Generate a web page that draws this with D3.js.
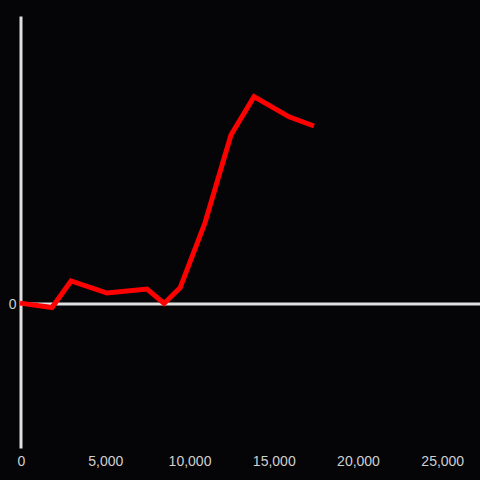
<!DOCTYPE html>
<html>
<head>
<script src="https://d3js.org/d3.v7.min.js"></script>
<style>
	body { margin: 0; background: #050407; }
	svg { background-color: #050407; display: block; }
	.tick text { fill: #d0d0d0; font-family: "Liberation Sans", Arial, sans-serif; font-size: 14px; }
</style>
</head>
<body>
<svg class="chart" width="480" height="480"></svg>
<script>
// data
var xValues = [0, 1900, 3030, 5160, 7540, 8550, 9500, 10980, 12520, 13890, 15970, 17450];
var yValues = [0.03, -0.12, 0.8, 0.38, 0.52, 0.02, 0.56, 2.82, 5.87, 7.2, 6.5, 6.18];
var xTicks = [0, 5000, 10000, 15000, 20000, 25000];
var yTicks = [0];

var svg = d3.select(".chart");
var padLeft = 20, padRight = 480, padTop = 16, padBottom = 448;

var x = d3.scaleLinear().domain([0, 27300]).range([padLeft, padRight]);
var y = d3.scaleLinear().domain([-5, 10]).range([padBottom, padTop]);

// zero line
svg.append("line")
	.attr("x1", padLeft).attr("x2", padRight)
	.attr("y1", y(0)).attr("y2", y(0))
	.attr("stroke", "#e0e0e0")
	.attr("stroke-width", 3);

// x tick labels along the bottom
var xAxis = svg.append("g")
	.attr("transform", "translate(1," + padBottom + ")")
	.call(d3.axisBottom(x).tickValues(xTicks).tickSize(0).tickPadding(6).tickFormat(d3.format(",")));
xAxis.select(".domain").remove();
xAxis.selectAll(".tick text").attr("dy", "0.85em");

// y axis
var yAxis = svg.append("g")
	.attr("transform", "translate(" + (padLeft + 0.5) + ",0)")
	.call(d3.axisLeft(y).tickValues(yTicks).tickSize(0).tickPadding(4).tickSizeOuter(0));
yAxis.select(".domain").attr("stroke", "#e0e0e0").attr("stroke-width", 3);

// the line
var points = xValues.map(function(d, i) { return [d, yValues[i]]; });
var line = d3.line()
	.x(function(d) { return x(d[0]); })
	.y(function(d) { return y(d[1]); });

svg.append("path")
	.datum(points)
	.attr("d", line)
	.attr("fill", "none")
	.attr("stroke", "#ff0000")
	.attr("stroke-width", 5);
</script>
</body>
</html>
